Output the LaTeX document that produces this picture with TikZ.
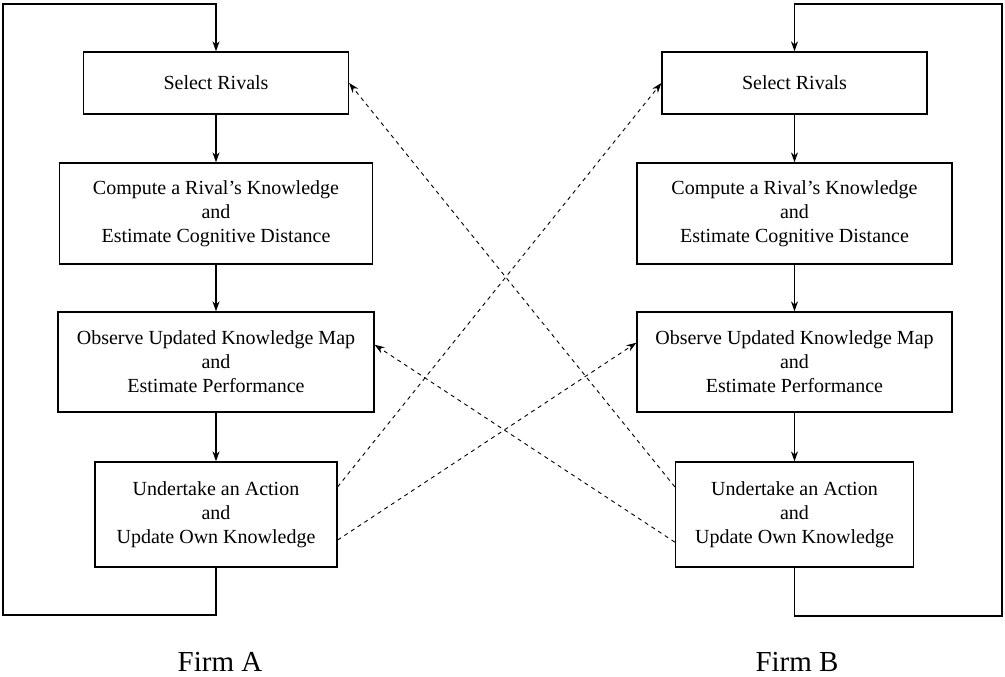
\documentclass[tikz,border=0pt]{standalone}
\usepackage{fontspec}
\setmainfont{Liberation Serif}
\usetikzlibrary{arrows.meta,calc}

\begin{document}
\begin{tikzpicture}[x=1pt,y=-1pt,>={Stealth[length=10pt,width=7pt]},line width=1.3pt,
			stage/.style={draw,rectangle,align=center,inner sep=0pt,font=\fontsize{20}{24}\selectfont},
			crossing/.style={->,line width=0.9pt,dash pattern=on 4pt off 4pt},
			firm/.style={font=\fontsize{29}{34}\selectfont}]
			\useasboundingbox (0,0) rectangle (1005,677);

			% Firm A
			\node[stage,minimum width=265pt,minimum height=62pt] (a1) at (216,83) {Select Rivals};
			\node[stage,minimum width=313pt,minimum height=101pt] (a2) at (216,213.5) {Compute a Rival's Knowledge\\and\\Estimate Cognitive Distance};
			\node[stage,minimum width=316pt,minimum height=100pt] (a3) at (216,362) {Observe Updated Knowledge Map\\and\\Estimate Performance};
			\node[stage,minimum width=242pt,minimum height=105pt] (a4) at (216,514.5) {Undertake an Action\\and\\Update Own Knowledge};

			% Firm B
			\node[stage,minimum width=265pt,minimum height=62pt] (b1) at (794.5,83) {Select Rivals};
			\node[stage,minimum width=315pt,minimum height=101pt] (b2) at (794.5,213.5) {Compute a Rival's Knowledge\\and\\Estimate Cognitive Distance};
			\node[stage,minimum width=315pt,minimum height=100pt] (b3) at (794.5,362) {Observe Updated Knowledge Map\\and\\Estimate Performance};
			\node[stage,minimum width=238pt,minimum height=105pt] (b4) at (794.5,514.5) {Undertake an Action\\and\\Update Own Knowledge};

			\node[firm] (firmA) at (220,662) {Firm A};
			\node[firm] (firmB) at (797,662) {Firm B};

			\coordinate (loopA1) at (3,615);
			\coordinate (loopA2) at (3,4);
			\coordinate (loopB1) at (1002,616);
			\coordinate (loopB2) at (1002,4);

			\path[->]
				(a1) edge (a2)
				(a2) edge (a3)
				(a3) edge (a4)
				(b1) edge (b2)
				(b2) edge (b3)
				(b3) edge (b4);

			% feedback loops
			\draw[->] (a4.south) |- (loopA1) -- (loopA2) -| (a1.north);
			\draw[->] (b4.south) |- (loopB1) -- (loopB2) -| (b1.north);

			% observing the rival
			\draw[crossing] ($(a4.north east)!.24!(a4.south east)$) -- (b1.west);
			\draw[crossing] ($(a4.north east)!.74!(a4.south east)$) -- ($(b3.north west)!.31!(b3.south west)$);
			\draw[crossing] ($(b4.north west)!.24!(b4.south west)$) -- (a1.east);
			\draw[crossing] ($(b4.north west)!.76!(b4.south west)$) -- ($(a3.north east)!.33!(a3.south east)$);
\end{tikzpicture}
\end{document}
